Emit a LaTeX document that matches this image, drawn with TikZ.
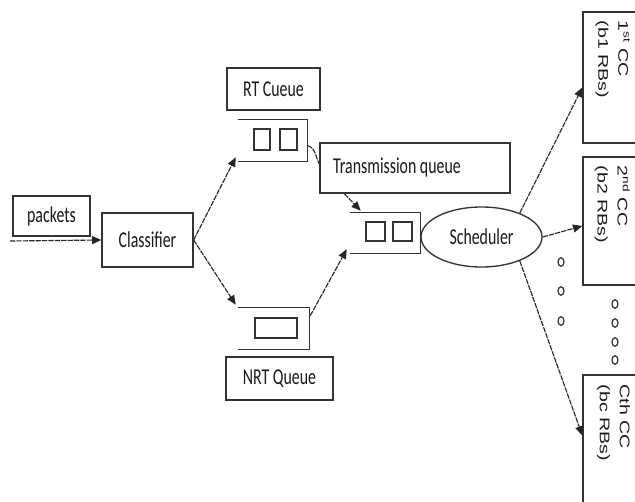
\documentclass[tikz,border=0pt]{standalone}
\usepackage{fontspec}
\setmainfont{Carlito}[FakeStretch=0.7]
\newfontfamily\ccfont{Liberation Sans}[FakeStretch=1.4]
\usetikzlibrary{shapes.geometric,calc,arrows.meta}
\begin{document}
\begin{tikzpicture}[x=0.75pt,y=-0.75pt,
  box/.style={draw=black!80, line width=1pt, rectangle, inner sep=0pt, text=black!90,
    font=\fontsize{17}{19}\selectfont},
  holder/.style={rectangle, inner sep=0pt},
  frame/.style={draw=black!80, line width=1pt},
  slot/.style={draw=black!80, line width=1pt, rectangle, inner sep=0pt},
  conn/.style={draw=black!85, line width=0.85pt, dash pattern=on 4pt off 0.8pt,
    -{Triangle[length=7pt,width=6pt]}},
  link/.style={draw=black!85, line width=0.85pt, dash pattern=on 4pt off 0.8pt},
  cclabel/.style={rotate=-90, anchor=north west, align=left, inner sep=0pt, text=black!90,
    font=\ccfont\fontsize{10.5}{15}\selectfont},
  dot/.style={draw=black!80, line width=0.9pt, ellipse, minimum width=4.5pt, minimum height=6.5pt, inner sep=0pt}
]
\useasboundingbox (0,0) rectangle (635,502);
\clip (0,0) rectangle (635,502);

% left part
\node[box, minimum width=77*0.75pt, minimum height=40*0.75pt] (pk) at (51.5,216) {packets};
\node[box, minimum width=91*0.75pt, minimum height=54*0.75pt] (cls) at (147.5,240) {Classifier};
\coordinate (pin) at (10,241);

% RT queue
\node[box, minimum width=93*0.75pt, minimum height=42*0.75pt] (rtl) at (273.5,89) {RT Cueue};
\node[holder, minimum width=69*0.75pt, minimum height=41*0.75pt] (rtq) at (272.5,140.5) {};
\draw[frame] (rtq.north west) -- (rtq.north east) -- (rtq.south east) -- (rtq.south west);
\node[slot, minimum width=16*0.75pt, minimum height=21*0.75pt] (rs1) at (262,139.5) {};
\node[slot, minimum width=17*0.75pt, minimum height=21*0.75pt] (rs2) at (288.5,139.5) {};

% NRT queue
\node[holder, minimum width=71*0.75pt, minimum height=41*0.75pt] (nrtq) at (273.5,328.5) {};
\draw[frame] (nrtq.north west) -- (nrtq.north east) -- (nrtq.south east) -- (nrtq.south west);
\node[slot, minimum width=42*0.75pt, minimum height=20*0.75pt] (ns1) at (276,328) {};
\node[box, minimum width=107*0.75pt, minimum height=43*0.75pt] (nrtl) at (279.5,378.5) {NRT Queue};

% transmission queue
\node[box, minimum width=190*0.75pt, minimum height=50*0.75pt] (txl) at (415,168) {Transmission queue\hspace*{27pt}};
\node[holder, minimum width=70*0.75pt, minimum height=40*0.75pt] (txq) at (385,233) {};
\draw[frame] (txq.north west) -- (txq.north east) -- (txq.south east) -- (txq.south west);
\node[slot, minimum width=19*0.75pt, minimum height=19*0.75pt] (ts1) at (375.5,231.5) {};
\node[slot, minimum width=19*0.75pt, minimum height=19*0.75pt] (ts2) at (402.5,231.5) {};

% scheduler
\node[draw=black!80, line width=1pt, ellipse, inner sep=0pt, minimum width=121*0.75pt, minimum height=60*0.75pt,
  text=black!90, font=\fontsize{17}{19}\selectfont] (sch) at (481.5,237) {Scheduler};

% component carriers
\node[box, minimum width=62*0.75pt, minimum height=131*0.75pt] (cc1) at (614,77.5) {};
\node[box, minimum width=62*0.75pt, minimum height=128*0.75pt] (cc2) at (614,221) {};
\node[box, minimum width=62*0.75pt, minimum height=145*0.75pt] (cc3) at (614,447.5) {};
\node[cclabel] (cc1t) at ($(cc1.north west)+(48,9)$) {1\textsuperscript{st} CC\\(b1 RBs)};
\node[cclabel] (cc2t) at ($(cc2.north west)+(48,9)$) {2\textsuperscript{nd} CC\\(b2 RBs)};
\node[cclabel] (cc3t) at ($(cc3.north west)+(48,10)$) {Cth CC\\(bc RBs)};

% dots
\node[dot] (d1) at (561,262) {};
\node[dot] (d2) at (561,291) {};
\node[dot] (d3) at (561,321) {};
\node[dot] (e1) at (615,304) {};
\node[dot] (e2) at (615,323) {};
\node[dot] (e3) at (615,342) {};
\node[dot] (e4) at (615,360) {};

% connectors
\draw[conn] (pin) -- (cls.west);
\draw[conn] (cls.east) -- ($(rtq.south west)+(-2,-4)$);
\draw[conn] (cls.east) -- ($(nrtq.north west)+(-2,-3)$);
\draw[conn] ($(nrtq.north east)+(1,8)$) -- ($(txq.south west)+(-3,-4)$);
\draw[link] ($(rtq.east)+(0,5)$) .. controls +(8,2) and +(-4,-8) .. ($(txl.west)+(0,-4)$);
\draw[conn] ($(txl.south west)+(25,0)$) -- ($(txq.north west)+(11,-2)$);
\draw[conn] (sch.32) -- ($(cc1.west)+(0,10)$);
\draw[conn] (sch.east) -- ($(cc2.west)+(0,5)$);
\draw[conn] (sch.-32) -- ($(cc3.west)+(0,-12)$);
\end{tikzpicture}
\end{document}
